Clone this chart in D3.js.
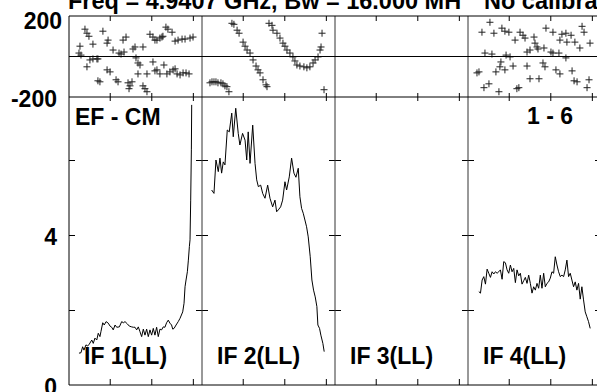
<!DOCTYPE html>
<html>
<head>
<meta charset="utf-8">
<script src="https://cdn.jsdelivr.net/npm/d3@7"></script>
<style>
  body { margin: 0; background: #fff; }
  svg { display: block; }
  text { font-family: "Liberation Sans", Arial, sans-serif; font-weight: bold; fill: #000; }
</style>
</head>
<body>
<div id="chart"></div>
<script>
// panel labels
const ifNames = ["IF 1(LL)", "IF 2(LL)", "IF 3(LL)", "IF 4(LL)"];
const titleText = "Freq = 4.9407 GHz, Bw = 16.000 MH";
const calText = "No calibration";
const sourceText = "EF - CM";
const baselineText = "1 - 6";

// tick values
const channelTicks = [25, 50, 75];
const ampTicks = [2, 4, 6];
const phaseLabels = [200, -200];
const ampLabels = [4, 0];

// phase points [channel, degrees]
const phaseIF1 = [
  [6.5,17],[7.7,7],[7.1,51],[10.1,135],[11.3,115],[12.5,100],[11.3,-51],[13.1,-17],[14.9,-12],[17.3,-12],
  [17.9,-12],[14.9,61],[17.9,-120],[19.1,-125],[20.9,125],[23.4,66],[24.0,81],[23.4,-66],[25.2,-76],[27.0,32],
  [28.8,-115],[30.0,-125],[30.6,17],[31.8,12],[33.6,22],[33.0,81],[34.8,96],[36.0,-130],[37.2,-145],[38.4,-125],
  [36.6,-159],[39.0,37],[40.2,47],[40.8,-7],[42.0,-32],[43.2,-42],[45.0,47],[42.0,-86],[45.0,-145],[46.2,-159],
  [47.4,-174],[47.4,-86],[49.2,110],[51.0,96],[51.0,-27],[52.2,81],[53.4,81],[55.2,91],[52.2,-71],[53.4,-66],
  [55.2,-86],[56.4,96],[57.0,100],[57.6,-42],[58.8,145],[60.0,135],[62.5,120],[59.4,-86],[61.2,-76],[63.1,-66],
  [64.3,-61],[64.3,76],[66.1,81],[68.5,86],[70.3,86],[73.3,91],[75.1,96],[65.5,-86],[67.3,-91],[69.1,-81],
  [70.9,-81],[72.7,-86]
];
const phaseIF2 = [
  [5.3,-130],[6.5,-125],[7.7,-125],[8.9,-125],[10.1,-130],[11.9,-130],[13.1,-135],[14.3,-145],[15.5,-149],[16.7,-174],
  [18.5,164],[19.7,159],[21.6,130],[22.8,115],[25.2,71],[26.4,51],[27.6,32],[29.4,17],[31.2,-17],[33.0,-47],
  [34.2,-66],[35.4,-81],[37.2,-115],[39.0,-140],[39.6,-149],[40.8,164],[42.6,154],[43.2,130],[45.6,115],[47.4,91],
  [49.2,66],[50.4,51],[51.6,32],[53.4,17],[55.2,-2],[56.4,-22],[57.6,-42],[59.4,-47],[61.8,-51],[63.6,-56],
  [65.4,-51],[67.3,-32],[68.5,-17],[70.3,-2],[71.5,32],[72.1,47],[72.7,115],[73.9,-164]
];
const phaseIF3 = [];
const phaseIF4 = [
  [13.7,169],[8.9,120],[16.1,115],[20.9,140],[22.7,125],[25.1,120],[28.8,81],[31.8,120],[33.6,105],[34.8,91],
  [40.2,96],[40.8,66],[47.4,140],[51.6,120],[57.0,110],[59.4,115],[62.5,105],[69.1,149],[70.3,120],[55.8,81],
  [60.0,71],[64.8,71],[67.8,42],[73.9,66],[10.7,17],[14.9,12],[23.4,7],[25.8,-2],[36.0,22],[37.8,32],
  [42.0,47],[42.6,37],[46.2,42],[50.4,22],[51.6,17],[55.2,17],[59.4,-7],[20.3,-27],[19.7,-51],[22.7,-66],
  [27.6,-47],[36.0,-47],[45.6,-32],[46.8,-51],[7.1,-76],[5.9,-81],[17.3,-76],[53.4,-66],[55.8,-86],[63.1,-71],
  [37.8,-110],[43.2,-110],[64.3,-120],[66.1,-125],[73.3,-115],[72.1,-154],[13.1,-135],[10.1,-154],[19.1,-174],[29.9,-159],
  [31.1,-154]
];

// amplitude spectra: channels and amplitudes
const ampIF1Ch = [6.5,7.7,8.7,9.5,10.7,11.7,12.7,14.2,15.1,16.1,17.2,18.1,19.1,19.7,20.8,21.7,22.8,24.1,25.2,26.2,
  27.1,28.2,29.2,30.8,32.2,33.2,34.2,35.6,36.8,38.2,39.2,40.2,41.2,42.2,43.2,44.2,45.2,46.2,47.2,48.2,
  49.2,50.2,51.2,52.2,53.2,54.2,55.2,56.2,57.2,58.2,59.2,60.2,61.2,62.2,62.9,63.7,64.9,66.2,67.3,68.9,
  69.7,70.3,70.9,71.7,72.3,72.9,73.3,73.7,74.1,74.3];
const ampIF1 = [0.85,0.86,1.02,0.93,1.07,1.04,1.09,1.2,1.11,1.25,1.2,1.38,1.29,1.42,1.66,1.6,1.69,1.65,1.57,1.54,
  1.47,1.6,1.54,1.55,1.69,1.66,1.69,1.63,1.57,1.55,1.54,1.54,1.47,1.55,1.42,1.29,1.49,1.33,1.49,1.29,
  1.47,1.33,1.51,1.33,1.54,1.29,1.49,1.47,1.55,1.54,1.66,1.73,1.65,1.6,1.49,1.51,1.6,1.69,1.78,1.95,
  2.18,2.62,2.8,3.02,3.33,3.69,3.87,4.93,6.27,7.47];
const ampIF2Ch = [6.3,7.7,8.9,10.3,11.3,12.3,13.3,14.3,15.7,16.9,18.4,19.3,20.8,22.3,23.3,24.9,26.4,27.4,28.3,29.4,
  31.0,32.4,33.4,34.4,35.8,37.0,38.4,40.0,41.4,43.0,44.4,45.4,46.4,47.8,49.0,50.4,51.4,53.0,54.4,55.8,
  57.0,58.4,59.4,60.4,61.4,62.4,63.4,64.4,65.6,66.6,67.6,68.6,69.6,70.2,71.2,72.0,73.2,74.0];
const ampIF2 = [5.2,5.11,6.0,5.69,6.05,5.65,5.95,5.87,6.8,6.75,7.25,6.62,7.38,6.71,6.4,6.71,6.53,6.0,6.75,5.91,
  6.93,5.91,5.47,5.29,5.33,5.11,4.98,5.33,4.98,4.75,4.93,4.62,4.67,4.75,4.93,5.42,5.2,5.55,6.05,5.65,
  5.54,5.78,5.02,4.71,4.58,4.4,4.22,3.95,3.42,2.8,2.53,2.35,2.09,1.6,1.51,1.33,1.11,0.89];
const ampIF3Ch = [];
const ampIF3 = [];
const ampIF4Ch = d3.range(7, 75);
const ampIF4 = [2.49,2.45,2.8,2.89,2.69,3.09,2.98,2.87,3.02,2.96,3.02,2.98,3.02,3.07,2.82,3.29,3.26,3.07,2.98,3.2,
  3.02,3.11,2.73,3.07,2.91,2.98,2.69,2.78,2.87,2.71,2.93,2.71,2.45,2.62,2.53,2.71,2.58,2.93,2.58,2.98,
  2.62,2.71,2.75,2.85,3.02,2.98,3.42,3.2,3.02,2.89,2.93,2.89,3.07,3.33,2.89,2.98,2.8,2.62,2.75,2.53,
  2.71,2.29,2.62,2.27,1.95,1.82,1.69,1.51];

const panels = [
  {name: ifNames[0], phase: phaseIF1, ch: ampIF1Ch, amp: ampIF1},
  {name: ifNames[1], phase: phaseIF2, ch: ampIF2Ch, amp: ampIF2},
  {name: ifNames[2], phase: phaseIF3, ch: ampIF3Ch, amp: ampIF3},
  {name: ifNames[3], phase: phaseIF4, ch: ampIF4Ch, amp: ampIF4}
];

// layout
const W = 597, H = 392;
const plotLeft = 69, panelW = 133;
const plotTop = 16, plotMid = 97, plotBottom = 385;

const svg = d3.select("#chart").append("svg")
  .attr("width", W)
  .attr("height", H);

const yPhase = d3.scaleLinear().domain([-200, 200]).range([plotMid, plotTop]);
const yAmp = d3.scaleLinear().domain([0, 7.68]).range([plotBottom, plotMid]);

const fs = "23px";

// title (runs off the top of the picture, as in the original plot)
svg.append("text").attr("x", 68).attr("y", 8.5).style("font-size", "23.5px").text(titleText);
svg.append("text").attr("x", 484).attr("y", 8.5).style("font-size", "23.5px").text(calText);

const line = d3.line();

panels.forEach((p, i) => {
  const x0 = plotLeft + i * panelW, x1 = x0 + panelW;
  const x = d3.scaleLinear().domain([0.5, 80.5]).range([x0, x1]);
  const g = svg.append("g");

  // amplitude spectrum
  if (p.amp.length) {
    const pts = p.amp.map((v, k) => [x(p.ch[k]), yAmp(v)]);
    g.append("path")
      .attr("d", line(pts))
      .attr("fill", "none")
      .attr("stroke", "#000")
      .attr("stroke-width", 1);
  }

  // phase crosses
  g.selectAll(".ph")
    .data(p.phase)
    .join("path")
    .attr("class", "ph")
    .attr("d", d => {
      const cx = x(d[0]), cy = yPhase(d[1]);
      return `M${cx - 3.5},${cy}H${cx + 3.5}M${cx},${cy - 3.5}V${cy + 3.5}`;
    })
    .attr("stroke", "#222")
    .attr("stroke-width", 1);

  // channel ticks
  const tk = (axis, y, size) => {
    g.append("g")
      .attr("transform", `translate(0,${y})`)
      .call(axis(x).tickValues(channelTicks).tickSize(size).tickFormat(""))
      .call(a => a.select(".domain").remove())
      .selectAll("line").attr("stroke", "#000");
  };
  tk(d3.axisBottom, plotBottom, -6);
  tk(d3.axisBottom, plotTop, 5);
  tk(d3.axisTop, plotMid, 4);
  tk(d3.axisBottom, plotMid, 4);

  // amplitude ticks on both panel edges
  g.append("g")
    .attr("transform", `translate(${x0},0)`)
    .call(d3.axisRight(yAmp).tickValues(ampTicks).tickSize(6).tickFormat(""))
    .call(a => a.select(".domain").remove());
  g.append("g")
    .attr("transform", `translate(${x1},0)`)
    .call(d3.axisLeft(yAmp).tickValues(ampTicks).tickSize(6).tickFormat(""))
    .call(a => a.select(".domain").remove());

  // panel frame
  g.append("line").attr("x1", x0).attr("x2", x0).attr("y1", plotTop).attr("y2", plotBottom)
    .attr("stroke", i === 0 ? "#000" : "#333");

  g.append("text")
    .attr("x", x0 + 15)
    .attr("y", plotBottom - 21)
    .style("font-size", fs)
    .text(p.name);
});

// horizontal frame lines
[plotTop, yPhase(0), plotMid, plotBottom].forEach(y => {
  svg.append("line")
    .attr("x1", plotLeft).attr("x2", W)
    .attr("y1", y).attr("y2", y)
    .attr("stroke", "#000");
});

// y labels
svg.append("text").attr("x", 62).attr("y", yPhase(200) + 5).attr("dy", "0.35em")
  .attr("text-anchor", "end").style("font-size", fs).text(phaseLabels[0]);
svg.append("text").attr("x", 57).attr("y", yPhase(-200) + 2).attr("dy", "0.35em")
  .attr("text-anchor", "end").style("font-size", fs).text(phaseLabels[1]);
ampLabels.forEach(v => {
  svg.append("text").attr("x", 57).attr("y", yAmp(v) + 2).attr("dy", "0.35em")
    .attr("text-anchor", "end").style("font-size", fs).text(v);
});

svg.append("text").attr("x", 75).attr("y", 125).style("font-size", fs).text(sourceText);
svg.append("text").attr("x", 527).attr("y", 124).style("font-size", fs).text(baselineText);
</script>
</body>
</html>
